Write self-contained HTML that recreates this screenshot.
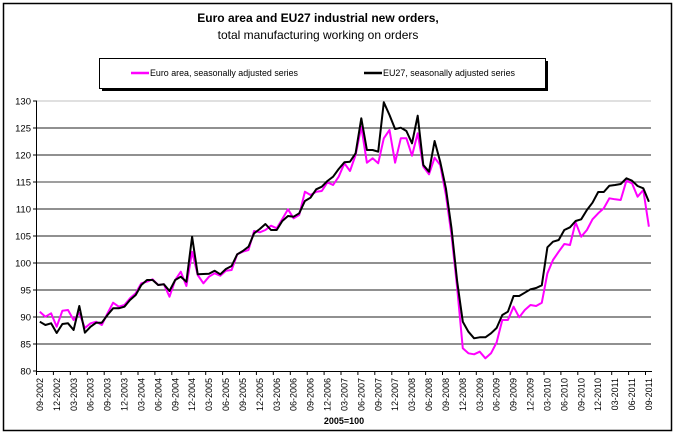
<!DOCTYPE html>
<html><head><meta charset="utf-8"><style>
html,body{margin:0;padding:0;background:#fff;}
svg{display:block;}
text{font-family:"Liberation Sans",Arial,sans-serif;fill:#000;}
</style></head><body>
<svg width="674" height="435" viewBox="0 0 674 435" xmlns="http://www.w3.org/2000/svg">
<rect x="0" y="0" width="674" height="435" fill="#fff"/>
<rect x="3.5" y="3.5" width="668" height="427" fill="none" stroke="#000" stroke-width="1.5"/>
<text x="318" y="22" font-size="12" font-weight="bold" text-anchor="middle">Euro area and EU27 industrial new orders,</text>
<text x="318" y="39" font-size="12" text-anchor="middle">total manufacturing working on orders</text>
<rect x="102" y="61" width="446" height="30" fill="#000"/>
<rect x="99.5" y="58.5" width="446" height="30" fill="#fff" stroke="#000" stroke-width="1"/>
<line x1="131" y1="73" x2="149" y2="73" stroke="#ff00ff" stroke-width="2.5"/>
<text x="150" y="76" font-size="9" textLength="148" lengthAdjust="spacingAndGlyphs">Euro area, seasonally adjusted series</text>
<line x1="364" y1="73" x2="382" y2="73" stroke="#000" stroke-width="2.5"/>
<text x="383" y="76" font-size="9" textLength="132" lengthAdjust="spacingAndGlyphs">EU27, seasonally adjusted series</text>
<g stroke="#222" stroke-width="1">
<line x1="37" y1="101" x2="651" y2="101" stroke="#c0c0c0"/>
<line x1="37" y1="128" x2="651" y2="128"/>
<line x1="37" y1="155" x2="651" y2="155"/>
<line x1="37" y1="182" x2="651" y2="182" stroke="#666" stroke-width="1.3"/>
<line x1="37" y1="209" x2="651" y2="209"/>
<line x1="37" y1="236" x2="651" y2="236"/>
<line x1="37" y1="263" x2="651" y2="263"/>
<line x1="37" y1="290" x2="651" y2="290"/>
<line x1="37" y1="317" x2="651" y2="317"/>
<line x1="37" y1="344" x2="651" y2="344"/>
</g>
<g stroke="#000" stroke-width="1">
<line x1="36.5" y1="101" x2="36.5" y2="371"/>
<line x1="36.5" y1="371.5" x2="652" y2="371.5"/>
<line x1="33" y1="101" x2="37" y2="101"/><line x1="33" y1="128" x2="37" y2="128"/><line x1="33" y1="155" x2="37" y2="155"/><line x1="33" y1="182" x2="37" y2="182"/><line x1="33" y1="209" x2="37" y2="209"/><line x1="33" y1="236" x2="37" y2="236"/><line x1="33" y1="263" x2="37" y2="263"/><line x1="33" y1="290" x2="37" y2="290"/><line x1="33" y1="317" x2="37" y2="317"/><line x1="33" y1="344" x2="37" y2="344"/><line x1="33" y1="371" x2="37" y2="371"/>
</g>
<g stroke="#000" stroke-width="1" id="xt">
<line x1="36.5" y1="371" x2="36.5" y2="375"/><line x1="53.4" y1="371" x2="53.4" y2="375"/><line x1="70.3" y1="371" x2="70.3" y2="375"/><line x1="87.3" y1="371" x2="87.3" y2="375"/><line x1="104.2" y1="371" x2="104.2" y2="375"/><line x1="121.1" y1="371" x2="121.1" y2="375"/><line x1="138" y1="371" x2="138" y2="375"/><line x1="154.9" y1="371" x2="154.9" y2="375"/><line x1="171.8" y1="371" x2="171.8" y2="375"/><line x1="188.8" y1="371" x2="188.8" y2="375"/><line x1="205.7" y1="371" x2="205.7" y2="375"/><line x1="222.6" y1="371" x2="222.6" y2="375"/><line x1="239.5" y1="371" x2="239.5" y2="375"/><line x1="256.4" y1="371" x2="256.4" y2="375"/><line x1="273.3" y1="371" x2="273.3" y2="375"/><line x1="290.3" y1="371" x2="290.3" y2="375"/><line x1="307.2" y1="371" x2="307.2" y2="375"/><line x1="324.1" y1="371" x2="324.1" y2="375"/><line x1="341" y1="371" x2="341" y2="375"/><line x1="357.9" y1="371" x2="357.9" y2="375"/><line x1="374.8" y1="371" x2="374.8" y2="375"/><line x1="391.8" y1="371" x2="391.8" y2="375"/><line x1="408.7" y1="371" x2="408.7" y2="375"/><line x1="425.6" y1="371" x2="425.6" y2="375"/><line x1="442.5" y1="371" x2="442.5" y2="375"/><line x1="459.4" y1="371" x2="459.4" y2="375"/><line x1="476.3" y1="371" x2="476.3" y2="375"/><line x1="493.3" y1="371" x2="493.3" y2="375"/><line x1="510.2" y1="371" x2="510.2" y2="375"/><line x1="527.1" y1="371" x2="527.1" y2="375"/><line x1="544" y1="371" x2="544" y2="375"/><line x1="560.9" y1="371" x2="560.9" y2="375"/><line x1="577.8" y1="371" x2="577.8" y2="375"/><line x1="594.8" y1="371" x2="594.8" y2="375"/><line x1="611.7" y1="371" x2="611.7" y2="375"/><line x1="628.6" y1="371" x2="628.6" y2="375"/><line x1="645.5" y1="371" x2="645.5" y2="375"/>
</g>
<g font-size="9.5" text-anchor="end">
<text x="31" y="104.5">130</text><text x="31" y="131.5">125</text><text x="31" y="158.5">120</text><text x="31" y="185.5">115</text><text x="31" y="212.5">110</text><text x="31" y="239.5">105</text><text x="31" y="266.5">100</text><text x="31" y="293.5">95</text><text x="31" y="320.5">90</text><text x="31" y="347.5">85</text><text x="31" y="374.5">80</text>
</g>
<g font-size="9" text-anchor="end">
<text transform="translate(43,378) rotate(-90)">09-2002</text>
<text transform="translate(59.9,378) rotate(-90)">12-2002</text>
<text transform="translate(76.8,378) rotate(-90)">03-2003</text>
<text transform="translate(93.7,378) rotate(-90)">06-2003</text>
<text transform="translate(110.7,378) rotate(-90)">09-2003</text>
<text transform="translate(127.6,378) rotate(-90)">12-2003</text>
<text transform="translate(144.5,378) rotate(-90)">03-2004</text>
<text transform="translate(161.4,378) rotate(-90)">06-2004</text>
<text transform="translate(178.3,378) rotate(-90)">09-2004</text>
<text transform="translate(195.2,378) rotate(-90)">12-2004</text>
<text transform="translate(212.2,378) rotate(-90)">03-2005</text>
<text transform="translate(229.1,378) rotate(-90)">06-2005</text>
<text transform="translate(246,378) rotate(-90)">09-2005</text>
<text transform="translate(262.9,378) rotate(-90)">12-2005</text>
<text transform="translate(279.8,378) rotate(-90)">03-2006</text>
<text transform="translate(296.7,378) rotate(-90)">06-2006</text>
<text transform="translate(313.7,378) rotate(-90)">09-2006</text>
<text transform="translate(330.6,378) rotate(-90)">12-2006</text>
<text transform="translate(347.5,378) rotate(-90)">03-2007</text>
<text transform="translate(364.4,378) rotate(-90)">06-2007</text>
<text transform="translate(381.3,378) rotate(-90)">09-2007</text>
<text transform="translate(398.2,378) rotate(-90)">12-2007</text>
<text transform="translate(415.2,378) rotate(-90)">03-2008</text>
<text transform="translate(432.1,378) rotate(-90)">06-2008</text>
<text transform="translate(449,378) rotate(-90)">09-2008</text>
<text transform="translate(465.9,378) rotate(-90)">12-2008</text>
<text transform="translate(482.8,378) rotate(-90)">03-2009</text>
<text transform="translate(499.7,378) rotate(-90)">06-2009</text>
<text transform="translate(516.7,378) rotate(-90)">09-2009</text>
<text transform="translate(533.6,378) rotate(-90)">12-2009</text>
<text transform="translate(550.5,378) rotate(-90)">03-2010</text>
<text transform="translate(567.4,378) rotate(-90)">06-2010</text>
<text transform="translate(584.3,378) rotate(-90)">09-2010</text>
<text transform="translate(601.2,378) rotate(-90)">12-2010</text>
<text transform="translate(618.2,378) rotate(-90)">03-2011</text>
<text transform="translate(635.1,378) rotate(-90)">06-2011</text>
<text transform="translate(652,378) rotate(-90)">09-2011</text>
</g>
<text x="344" y="424" font-size="9" font-weight="bold" text-anchor="middle">2005=100</text>
<polyline fill="none" stroke="#ff00ff" stroke-width="2" stroke-linejoin="round" points="39.8,311.7 45.4,316.7 51.1,313.3 56.7,326.7 62.4,310.7 68,310 73.6,320 79.3,313 84.9,328 90.6,323.3 96.2,321.7 101.8,325 107.5,313.3 113.1,302.7 118.8,306.7 124.4,305 130,298.3 135.7,293.3 141.3,283.3 147,281.7 152.6,279.3 158.2,285 163.9,284.3 169.5,296.7 175.2,280 180.8,271.7 186.4,286 192.1,251.7 197.7,275 203.4,283.3 209,276.7 214.6,273.3 220.3,275.7 225.9,270.7 231.6,270 237.2,254.3 242.8,251.7 248.5,250 254.1,231 259.8,232.3 265.4,230 271,225.7 276.7,228.3 282.3,219 288,209.3 293.6,218.3 299.2,215 304.9,191.7 310.5,195 316.2,191.7 321.8,191 327.4,182.3 333.1,185 338.7,176.7 344.4,163.3 350,171 355.6,155 361.3,126.7 366.9,162.7 372.6,158.3 378.2,163.3 383.8,138.3 389.5,130 395.1,162.7 400.8,138.3 406.4,138.3 412,155.7 417.7,133.3 423.3,166.7 429,174.3 434.6,157.7 440.2,165 445.9,195 451.5,235 457.2,288.3 462.8,348.3 468.4,353.3 474.1,354.3 479.7,351.7 485.4,358.3 491,353.3 496.6,342.5 502.3,320 507.9,320 513.6,306.7 519.2,317.3 524.8,310 530.5,305 536.1,306 541.8,302.7 547.4,273.3 553,260 558.7,251.7 564.3,244 570,245 575.6,222.3 581.2,236.7 586.9,230 592.5,219.3 598.2,213.3 603.8,208.3 609.4,198.3 615.1,199.3 620.7,200 626.4,180.7 632,183.3 637.6,196.7 643.3,190 648.9,226.7"/>
<polyline fill="none" stroke="#000" stroke-width="2" stroke-linejoin="round" points="39.8,321.7 45.4,325 51.1,323.3 56.7,333 62.4,324 68,323.3 73.6,330 79.3,306 84.9,332.7 90.6,326.7 96.2,322.7 101.8,322.7 107.5,315 113.1,308.3 118.8,308.3 124.4,306.7 130,300 135.7,295 141.3,285 147,280 152.6,280 158.2,285 163.9,284.3 169.5,291 175.2,280 180.8,276.7 186.4,281.7 192.1,236.7 197.7,274.3 203.4,274 209,273.7 214.6,270.7 220.3,274.3 225.9,269 231.6,266 237.2,254.3 242.8,251 248.5,246.7 254.1,233.3 259.8,229 265.4,224 271,230 276.7,230 282.3,221 288,216 293.6,216.7 299.2,213.3 304.9,201 310.5,197.7 316.2,189.3 321.8,186.7 327.4,181 333.1,176.7 338.7,169 344.4,162.3 350,161.7 355.6,153.3 361.3,118.3 366.9,150 372.6,150 378.2,151.7 383.8,102.3 389.5,115 395.1,129 400.8,127.7 406.4,131 412,143.3 417.7,115.7 423.3,165 429,171.7 434.6,141 440.2,161.7 445.9,188.3 451.5,228.3 457.2,281.7 462.8,321.7 468.4,331.7 474.1,338.3 479.7,337.3 485.4,337.3 491,333.3 496.6,328 502.3,315 507.9,311.7 513.6,296 519.2,296 524.8,292.7 530.5,289.3 536.1,288 541.8,285.3 547.4,247.3 553,241.7 558.7,240 564.3,230 570,227.3 575.6,221 581.2,219.3 586.9,210 592.5,202.7 598.2,192 603.8,192 609.4,185.7 615.1,185 620.7,184 626.4,178.3 632,180.7 637.6,186 643.3,188.3 648.9,201.7"/>
</svg>
</body></html>
